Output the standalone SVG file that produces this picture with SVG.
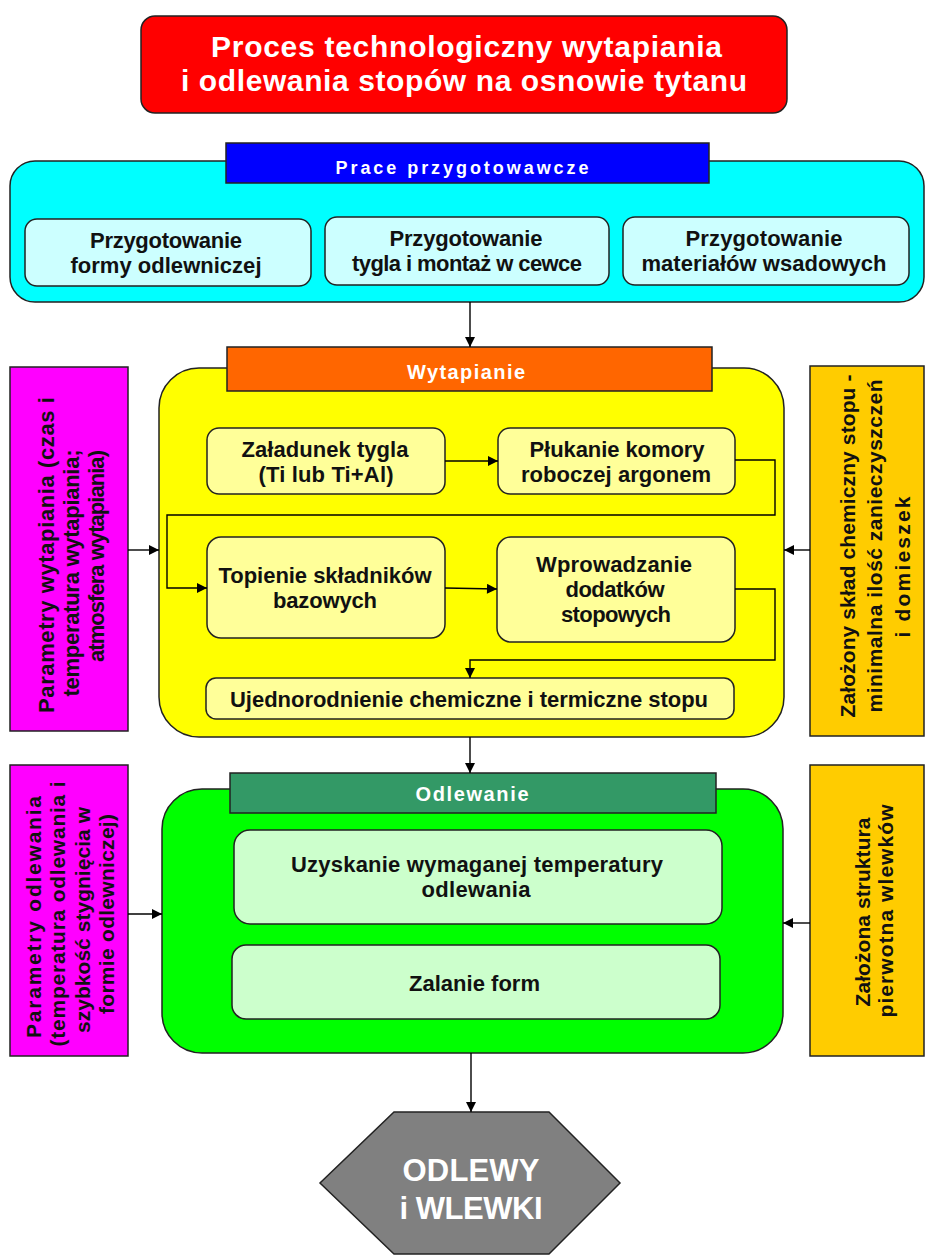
<svg xmlns="http://www.w3.org/2000/svg" width="926" height="1257" viewBox="0 0 926 1257">
<defs>
<marker id="arr" viewBox="0 0 10 10" refX="10" refY="5" markerWidth="11" markerHeight="10" markerUnits="userSpaceOnUse" orient="auto">
<path d="M0,0 L10,5 L0,10 Z" fill="#000"/>
</marker>
<style>
.t{font-family:"Liberation Sans",Arial,sans-serif;font-weight:bold;text-anchor:middle}
.w{fill:#fff}
.k{fill:#111}
.s{stroke:#222;stroke-width:1.5}
.c{fill:none;stroke:#000;stroke-width:1.4}
.ca{fill:none;stroke:#000;stroke-width:1.4;marker-end:url(#arr)}
</style>
</defs>
<rect width="926" height="1257" fill="#fff"/>

<g id="title">
<rect x="141" y="16" width="646" height="97" rx="14" fill="#ff0000" class="s"/>
<text class="t w" x="466.5" y="57" font-size="30" textLength="511">Proces technologiczny wytapiania</text>
<text class="t w" x="464" y="91" font-size="30" textLength="566">i odlewania stopów na osnowie tytanu</text>
</g>

<g id="prace">
<rect x="10" y="161" width="914" height="141" rx="25" fill="#00ffff" class="s"/>
<rect x="226" y="143" width="483" height="40" fill="#0000ff" class="s"/>
<text class="t w" x="462" y="174" font-size="18" textLength="253">Prace przygotowawcze</text>
</g>
<g id="p1">
<rect x="25" y="219" width="286" height="67" rx="12" fill="#ccffff" class="s"/>
<text class="t k" x="166" y="248" font-size="22" textLength="152">Przygotowanie</text>
<text class="t k" x="166" y="273" font-size="22" textLength="191">formy odlewniczej</text>
</g>
<g id="p2">
<rect x="325" y="217" width="284" height="68" rx="12" fill="#ccffff" class="s"/>
<text class="t k" x="466" y="246" font-size="22" textLength="153">Przygotowanie</text>
<text class="t k" x="467" y="271" font-size="22" textLength="230">tygla i montaż w cewce</text>
</g>
<g id="p3">
<rect x="623" y="217" width="286" height="68" rx="12" fill="#ccffff" class="s"/>
<text class="t k" x="764" y="246" font-size="22" textLength="157">Przygotowanie</text>
<text class="t k" x="764" y="271" font-size="22" textLength="245">materiałów wsadowych</text>
</g>

<g id="wytapianie">
<rect x="159" y="368" width="625" height="369" rx="40" fill="#ffff00" class="s"/>
<rect x="227" y="347" width="485" height="44" fill="#ff6600" class="s"/>
<text class="t w" x="466" y="379" font-size="20" textLength="118">Wytapianie</text>
</g>
<g id="w1">
<rect x="207" y="428" width="238" height="66" rx="12" fill="#ffff99" class="s"/>
<text class="t k" x="325" y="457" font-size="22" textLength="167">Załadunek tygla</text>
<text class="t k" x="326" y="482" font-size="22" textLength="135">(Ti lub Ti+Al)</text>
</g>
<g id="w2">
<rect x="498" y="428" width="237" height="66" rx="12" fill="#ffff99" class="s"/>
<text class="t k" x="617" y="457" font-size="22" textLength="175">Płukanie komory</text>
<text class="t k" x="616" y="482" font-size="22" textLength="190">roboczej argonem</text>
</g>
<g id="w3">
<rect x="207" y="537" width="238" height="101" rx="14" fill="#ffff99" class="s"/>
<text class="t k" x="325" y="583" font-size="22" textLength="213">Topienie składników</text>
<text class="t k" x="325" y="608" font-size="22" textLength="104">bazowych</text>
</g>
<g id="w4">
<rect x="497" y="537" width="238" height="105" rx="14" fill="#ffff99" class="s"/>
<text class="t k" x="614" y="572" font-size="22" textLength="156">Wprowadzanie</text>
<text class="t k" x="615" y="597" font-size="22" textLength="99">dodatków</text>
<text class="t k" x="616" y="622" font-size="22" textLength="110">stopowych</text>
</g>
<g id="w5">
<rect x="206" y="678" width="528" height="41" rx="10" fill="#ffff99" class="s"/>
<text class="t k" x="469" y="707" font-size="22" textLength="478">Ujednorodnienie chemiczne i termiczne stopu</text>
</g>

<g id="param1">
<rect x="10" y="367" width="118" height="364" fill="#ff00ff" class="s"/>
<text class="t k" font-size="22" transform="translate(54,555) rotate(-90)" textLength="316">Parametry wytapiania (czas i</text>
<text class="t k" font-size="22" transform="translate(79,573) rotate(-90)" textLength="247">temperatura  wytapiania;</text>
<text class="t k" font-size="22" transform="translate(104,556) rotate(-90)" textLength="212">atmosfera wytapiania)</text>
</g>
<g id="sklad">
<rect x="810" y="366" width="114" height="370" fill="#ffcc00" class="s"/>
<text class="t k" font-size="21" transform="translate(855,546) rotate(-90)" textLength="343">Założony skład chemiczny stopu -</text>
<text class="t k" font-size="21" transform="translate(882,546) rotate(-90)" textLength="333">minimalna ilość zanieczyszczeń</text>
<text class="t k" font-size="21" transform="translate(910,567) rotate(-90)" textLength="141">i domieszek</text>
</g>

<g id="odlewanie">
<rect x="162" y="789" width="621" height="264" rx="40" fill="#00ff00" class="s"/>
<rect x="230" y="773" width="486" height="40" fill="#339966" class="s"/>
<text class="t w" x="472" y="801" font-size="20" textLength="113">Odlewanie</text>
</g>
<g id="o1">
<rect x="234" y="830" width="488" height="94" rx="16" fill="#ccffcc" class="s"/>
<text class="t k" x="477" y="872" font-size="22" textLength="372">Uzyskanie  wymaganej temperatury</text>
<text class="t k" x="476" y="897" font-size="22" textLength="109">odlewania</text>
</g>
<g id="o2">
<rect x="232" y="945" width="488" height="74" rx="14" fill="#ccffcc" class="s"/>
<text class="t k" x="474.5" y="991" font-size="22" textLength="131">Zalanie form</text>
</g>

<g id="param2">
<rect x="10" y="765" width="118" height="291" fill="#ff00ff" class="s"/>
<text class="t k" font-size="21" transform="translate(41,917) rotate(-90)" textLength="242">Parametry odlewania</text>
<text class="t k" font-size="21" transform="translate(65,914) rotate(-90)" textLength="265">(temperatura odlewania i</text>
<text class="t k" font-size="21" transform="translate(90,920) rotate(-90)" textLength="226">szybkość  stygnięcia w</text>
<text class="t k" font-size="21" transform="translate(114,914) rotate(-90)" textLength="200">formie odlewniczej)</text>
</g>
<g id="struktura">
<rect x="810" y="765" width="114" height="291" fill="#ffcc00" class="s"/>
<text class="t k" font-size="21" transform="translate(870,912) rotate(-90)" textLength="189">Założona struktura</text>
<text class="t k" font-size="21" transform="translate(893,911) rotate(-90)" textLength="213">pierwotna  wlewków</text>
</g>

<g id="wynik">
<polygon points="394,1112 549,1112 620,1183 549,1254 394,1254 320,1183" fill="#808080" stroke="#222" stroke-width="1.5"/>
<text class="t w" x="471" y="1181" font-size="31" textLength="137">ODLEWY</text>
<text class="t w" x="471" y="1219" font-size="31" textLength="143">i WLEWKI</text>
</g>

<g id="connectors">
<path class="ca" d="M470,302 V347"/>
<path class="ca" d="M128,550 H159"/>
<path class="ca" d="M810,550 H784"/>
<path class="ca" d="M445,461 H498"/>
<path class="ca" d="M735,460 H775 V515 H167 V588 H207"/>
<path class="ca" d="M445,588 L497,589"/>
<path class="ca" d="M735,589 H775 V660 H470 V678"/>
<path class="ca" d="M470,737 V773"/>
<path class="ca" d="M128,914 H162"/>
<path class="ca" d="M810,923 H783"/>
<path class="ca" d="M471,1053 V1112"/>
</g>
</svg>
